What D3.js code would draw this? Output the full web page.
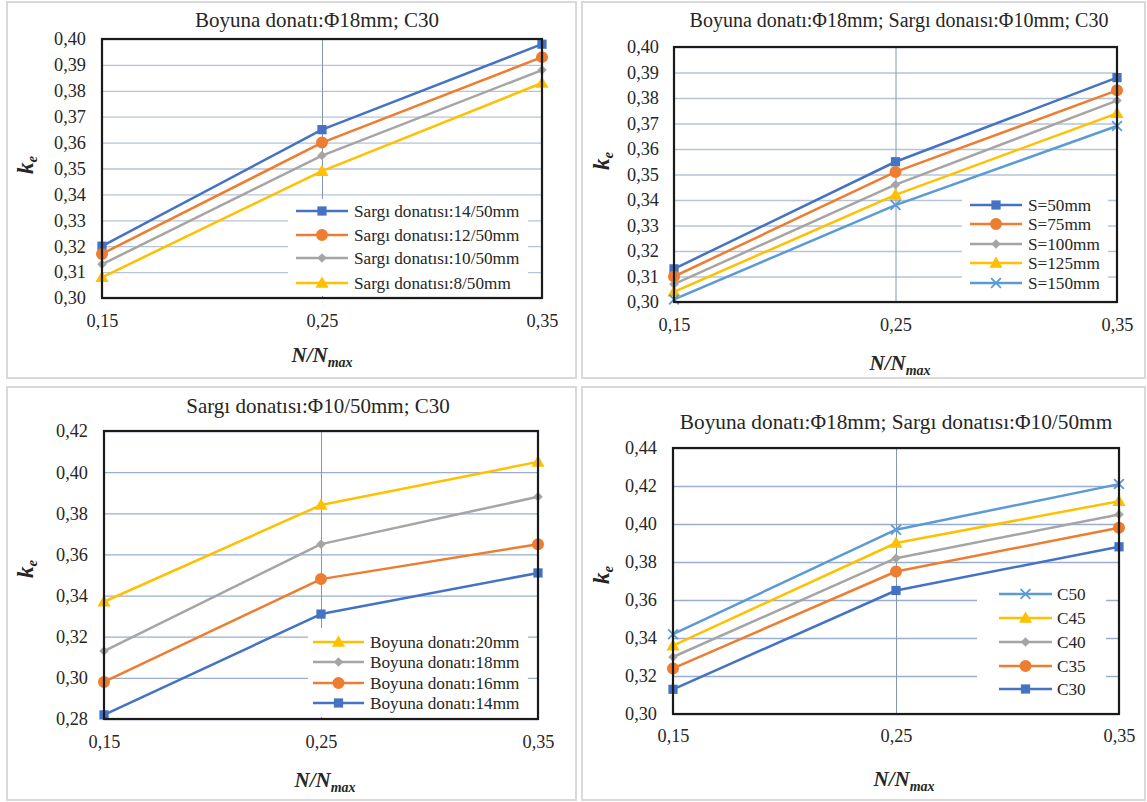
<!DOCTYPE html>
<html>
<head>
<meta charset="utf-8">
<script src="https://cdn.jsdelivr.net/npm/d3@7"></script>
<style>
  html, body { margin: 0; padding: 0; background: #fff; }
  svg { display: block; }
  text { font-family: "Liberation Serif", "Times New Roman", serif; fill: #262626; }
</style>
</head>
<body>
<svg id="chart" width="1147" height="802"></svg>
<script>
// ---------------- DATA ----------------
const xValues = [0.15, 0.25, 0.35];
const xTickLabels = ["0,15", "0,25", "0,35"];

const p1Title = "Boyuna donatı:Φ18mm; C30";
const p1Names = ["Sargı donatısı:14/50mm", "Sargı donatısı:12/50mm", "Sargı donatısı:10/50mm", "Sargı donatısı:8/50mm"];
const p1Values = [
  [0.320, 0.365, 0.398],
  [0.317, 0.360, 0.393],
  [0.313, 0.355, 0.388],
  [0.308, 0.349, 0.383]
];
const p1YTicks = [0.30, 0.31, 0.32, 0.33, 0.34, 0.35, 0.36, 0.37, 0.38, 0.39, 0.40];

const p2Title = "Boyuna donatı:Φ18mm; Sargı donaısı:Φ10mm; C30";
const p2Names = ["S=50mm", "S=75mm", "S=100mm", "S=125mm", "S=150mm"];
const p2Values = [
  [0.313, 0.355, 0.388],
  [0.310, 0.351, 0.383],
  [0.307, 0.346, 0.379],
  [0.304, 0.342, 0.374],
  [0.301, 0.338, 0.369]
];
const p2YTicks = [0.30, 0.31, 0.32, 0.33, 0.34, 0.35, 0.36, 0.37, 0.38, 0.39, 0.40];

const p3Title = "Sargı donatısı:Φ10/50mm; C30";
const p3Names = ["Boyuna donatı:20mm", "Boyuna donatı:18mm", "Boyuna donatı:16mm", "Boyuna donatı:14mm"];
const p3Values = [
  [0.337, 0.384, 0.405],
  [0.313, 0.365, 0.388],
  [0.298, 0.348, 0.365],
  [0.282, 0.331, 0.351]
];
const p3YTicks = [0.28, 0.30, 0.32, 0.34, 0.36, 0.38, 0.40, 0.42];

const p4Title = "Boyuna donatı:Φ18mm; Sargı donatısı:Φ10/50mm";
const p4Names = ["C50", "C45", "C40", "C35", "C30"];
const p4Values = [
  [0.342, 0.397, 0.421],
  [0.336, 0.390, 0.412],
  [0.330, 0.382, 0.405],
  [0.324, 0.375, 0.398],
  [0.313, 0.365, 0.388]
];
const p4YTicks = [0.30, 0.32, 0.34, 0.36, 0.38, 0.40, 0.42, 0.44];

// ---------------- STYLES ----------------
const C = { blue: "#4472C4", orange: "#ED7D31", gray: "#A5A5A5", yellow: "#FFC000", lblue: "#5B9BD5" };
const M = { square: "square", circle: "circle", diamond: "diamond", triangle: "triangle", x: "x" };

const panels = [
  { titleText: p1Title, names: p1Names, values: p1Values, yTicks: p1YTicks,
    colors: [C.blue, C.orange, C.gray, C.yellow], markers: [M.square, M.circle, M.diamond, M.triangle],
    frame: [7, 2, 576, 378], plot: [102, 39, 542, 298], titlePos: [317, 27, 21],
    xLabBase: 327, xTitle: [322, 362], yTitle: [33, 165], yLabX: 86,
    legend: { box: [288, 199, 528, 296], rows: [211, 235, 258, 283], line: [296, 348], textX: 354 },
    hGrid: "#B7C3D7" },
  { titleText: p2Title, names: p2Names, values: p2Values, yTicks: p2YTicks,
    colors: [C.blue, C.orange, C.gray, C.yellow, C.lblue], markers: [M.square, M.circle, M.diamond, M.triangle, M.x],
    frame: [582, 2, 1145, 378], plot: [674, 47, 1117, 302], titlePos: [899, 27, 20],
    xLabBase: 331, xTitle: [900, 370], yTitle: [609, 161], yLabX: 659,
    legend: { box: [962, 193, 1108, 298], rows: [205, 224, 244, 263, 283], line: [970, 1022], textX: 1028 },
    hGrid: "#B7C3D7" },
  { titleText: p3Title, names: p3Names, values: p3Values, yTicks: p3YTicks,
    colors: [C.yellow, C.gray, C.orange, C.blue], markers: [M.triangle, M.diamond, M.circle, M.square],
    frame: [7, 387, 576, 800], plot: [104, 431, 538, 719], titlePos: [318, 413, 21],
    xLabBase: 748, xTitle: [325, 787], yTitle: [33, 569], yLabX: 88,
    legend: { box: [308, 628, 528, 717], rows: [642, 662, 683, 703], line: [313, 364], textX: 370 },
    hGrid: "#9AAED0" },
  { titleText: p4Title, names: p4Names, values: p4Values, yTicks: p4YTicks,
    colors: [C.lblue, C.yellow, C.gray, C.orange, C.blue], markers: [M.x, M.triangle, M.diamond, M.circle, M.square],
    frame: [582, 387, 1145, 800], plot: [673, 448, 1119, 714], titlePos: [896, 429, 21.3],
    xLabBase: 742, xTitle: [904, 786], yTitle: [609, 575], yLabX: 657,
    legend: { box: [977, 576, 1106, 705], rows: [594, 618, 642, 666, 689], line: [999, 1052], textX: 1057 },
    hGrid: "#9AAED0" }
];

const svg = d3.select("#chart");
const fmt = v => d3.format(".2f")(v).replace(".", ",");

function drawMarker(g, type, color, x, y) {
  if (type === "square") {
    g.append("path").attr("d", d3.symbol(d3.symbolSquare, 85)()).attr("transform", `translate(${x},${y})`).attr("fill", color);
  } else if (type === "circle") {
    g.append("path").attr("d", d3.symbol(d3.symbolCircle, 113)()).attr("transform", `translate(${x},${y})`).attr("fill", color);
  } else if (type === "diamond") {
    g.append("path").attr("d", d3.symbol(d3.symbolSquare, 45)()).attr("transform", `translate(${x},${y}) rotate(45)`).attr("fill", color);
  } else if (type === "triangle") {
    g.append("path").attr("d", d3.symbol(d3.symbolTriangle, 75)()).attr("transform", `translate(${x},${y+1})`).attr("fill", color);
  } else if (type === "x") {
    g.append("path").attr("d", d3.symbol(d3.symbolX, 64)()).attr("transform", `translate(${x},${y})`)
      .attr("fill", "none").attr("stroke", color).attr("stroke-width", 1.8);
  }
}

panels.forEach(p => {
  const g = svg.append("g");
  const [fx0, fy0, fx1, fy1] = p.frame;
  g.append("rect").attr("x", fx0).attr("y", fy0).attr("width", fx1 - fx0).attr("height", fy1 - fy0)
    .attr("fill", "#fff").attr("stroke", "#D9D9D9").attr("stroke-width", 2);

  const [px0, py0, px1, py1] = p.plot;
  const x = d3.scaleLinear().domain([xValues[0], xValues[xValues.length - 1]]).range([px0, px1]);
  const y = d3.scaleLinear().domain([p.yTicks[0], p.yTicks[p.yTicks.length - 1]]).range([py1, py0]);

  // horizontal gridlines
  g.append("g").attr("transform", `translate(${px0},0)`)
    .call(d3.axisLeft(y).tickValues(p.yTicks).tickSize(-(px1 - px0)).tickFormat(""))
    .call(a => a.select(".domain").remove())
    .call(a => a.selectAll("line").attr("stroke", p.hGrid).attr("stroke-width", 1.3));
  // vertical gridline(s)
  g.append("g").attr("transform", `translate(0,${py1})`)
    .call(d3.axisBottom(x).tickValues(xValues.slice(1, -1)).tickSize(-(py1 - py0)).tickFormat(""))
    .call(a => a.select(".domain").remove())
    .call(a => a.selectAll("line").attr("stroke", "#8497B0").attr("stroke-width", 1));

  // y tick labels
  g.append("g").attr("transform", `translate(${p.yLabX},0)`)
    .call(d3.axisLeft(y).tickValues(p.yTicks).tickSize(0).tickPadding(0).tickFormat(fmt))
    .call(a => a.select(".domain").remove())
    .call(a => a.selectAll("text").attr("font-size", 18.3).attr("fill", "#262626")
      .attr("font-family", "Liberation Serif, serif"));

  // x tick labels
  g.append("g").attr("transform", `translate(0,${p.xLabBase})`)
    .call(d3.axisBottom(x).tickValues(xValues).tickSize(0).tickPadding(0).tickFormat((d, i) => xTickLabels[i]))
    .call(a => a.select(".domain").remove())
    .call(a => a.selectAll("text").attr("font-size", 18.3).attr("fill", "#262626").attr("dy", 0).attr("y", 0)
      .attr("font-family", "Liberation Serif, serif"));

  // legend background
  const L = p.legend;
  g.append("rect").attr("x", L.box[0]).attr("y", L.box[1]).attr("width", L.box[2] - L.box[0]).attr("height", L.box[3] - L.box[1])
    .attr("fill", "#fff");

  // series
  const line = d3.line().x((d, i) => x(xValues[i])).y(d => y(d));
  p.values.forEach((vals, si) => {
    g.append("path").datum(vals).attr("d", line).attr("fill", "none")
      .attr("stroke", p.colors[si]).attr("stroke-width", 2.5).attr("stroke-linejoin", "round");
  });
  p.values.forEach((vals, si) => {
    vals.forEach((v, i) => drawMarker(g, p.markers[si], p.colors[si], x(xValues[i]), y(v)));
  });

  // plot border
  g.append("rect").attr("x", px0).attr("y", py0).attr("width", px1 - px0).attr("height", py1 - py0)
    .attr("fill", "none").attr("stroke", "#1a1a1a").attr("stroke-width", 2.2);

  // legend entries
  p.names.forEach((name, si) => {
    const ry = L.rows[si];
    g.append("line").attr("x1", L.line[0]).attr("x2", L.line[1]).attr("y1", ry).attr("y2", ry)
      .attr("stroke", p.colors[si]).attr("stroke-width", 2.5);
    drawMarker(g, p.markers[si], p.colors[si], (L.line[0] + L.line[1]) / 2, ry);
    g.append("text").attr("x", L.textX).attr("y", ry).attr("dy", "0.35em")
      .attr("font-size", 17.2).text(name);
  });

  // title
  g.append("text").attr("x", p.titlePos[0]).attr("y", p.titlePos[1]).attr("text-anchor", "middle")
    .attr("font-size", p.titlePos[2]).text(p.titleText);

  // axis titles
  const xt = g.append("text").attr("x", p.xTitle[0]).attr("y", p.xTitle[1]).attr("text-anchor", "middle")
    .attr("font-size", 21).attr("font-weight", "bold").attr("font-style", "italic");
  xt.append("tspan").text("N/N");
  xt.append("tspan").attr("font-size", 14).attr("dy", 5).text("max");

  const yt = g.append("text").attr("transform", `translate(${p.yTitle[0]},${p.yTitle[1]}) rotate(-90)`)
    .attr("text-anchor", "middle").attr("font-size", 23).attr("font-weight", "bold").attr("font-style", "italic");
  yt.append("tspan").text("k");
  yt.append("tspan").attr("font-size", 15).attr("dy", 4).text("e");
});
</script>
</body>
</html>
